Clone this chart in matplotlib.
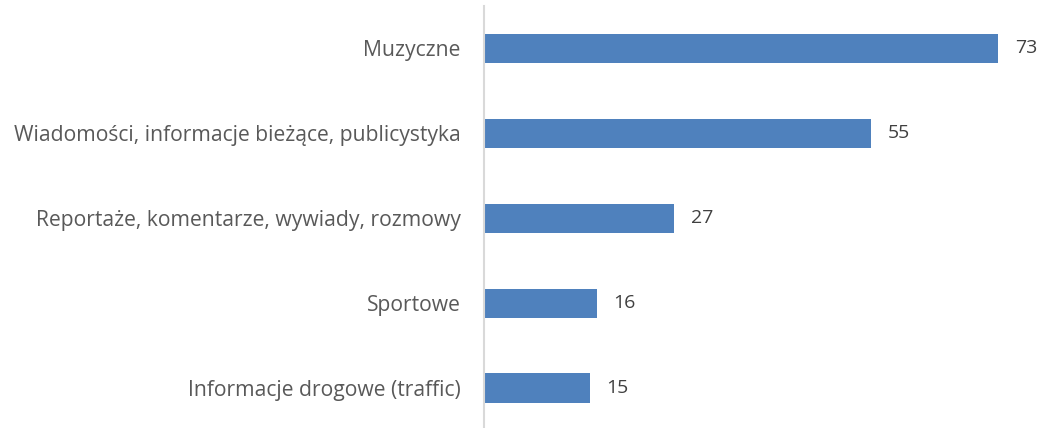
import matplotlib
matplotlib.use("Agg")
import matplotlib.pyplot as plt

# dane
kategorie = [
    "Muzyczne",
    "Wiadomości, informacje bieżące, publicystyka",
    "Reportaże, komentarze, wywiady, rozmowy",
    "Sportowe",
    "Informacje drogowe (traffic)",
]
wartosci = [73, 55, 27, 16, 15]

kolor_slupka = "#4F81BD"
kolor_tekstu = "#595959"

plt.rcParams["font.family"] = ["Open Sans", "DejaVu Sans"]

fig = plt.figure(figsize=(10.41, 4.28), dpi=100)
ax = fig.add_axes([484 / 1041, -2.5 / 428, 557 / 1041, 424.5 / 428])

y = list(range(len(kategorie)))
ax.barh(y, wartosci, height=0.345, color=kolor_slupka)

for yi, v in zip(y, wartosci):
    ax.text(v + 2.4, yi, str(v), va="center", ha="left",
            fontsize=14, color="#404040")

ax.set_xlim(0, 557 / 7.04)
ax.set_ylim(4.5, -0.5)
ax.set_yticks(y)
ax.set_yticklabels(kategorie, fontsize=15.2, color=kolor_tekstu)
ax.tick_params(axis="y", length=0, pad=17)
ax.set_xticks([])

for s in ["top", "right", "bottom"]:
    ax.spines[s].set_visible(False)
ax.spines["left"].set_color("#D9D9D9")
ax.spines["left"].set_linewidth(1.5)

fig.savefig("out.png", dpi=100)
